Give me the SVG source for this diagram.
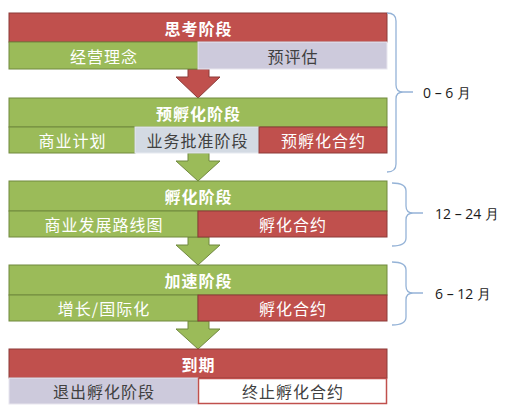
<svg xmlns="http://www.w3.org/2000/svg" width="509" height="414" viewBox="0 0 509 414">
<defs>
<style>
.red{fill:#C0504D;stroke:#8C3A38;stroke-width:1}
.grn{fill:#9BBB59;stroke:#71893F;stroke-width:1}
.lil{fill:#CDCADC;stroke:#E8E6EF;stroke-width:1}
.blu{fill:#D3DAE3;stroke:#E6EAF0;stroke-width:1}
.wht{fill:#FFFFFF;stroke:#C0504D;stroke-width:1.5}
.ra{fill:#C0504D;stroke:#8C3A38;stroke-width:1}
.ga{fill:#9BBB59;stroke:#71893F;stroke-width:1}
text{font-family:"Noto Sans CJK SC","Liberation Sans",sans-serif;font-size:16px;letter-spacing:1px;text-anchor:middle;dominant-baseline:central}
.h{font-weight:bold;fill:#FFFFFF}
.w{fill:#FFFFFF}
.d{fill:#404040}
.br{fill:none;stroke:#95B3D7;stroke-width:1.3}
.lab{font-family:"Open Sans","Liberation Sans",sans-serif;font-size:14px;letter-spacing:0;fill:#1A1A1A;text-anchor:start}
</style>
</defs>
<g id="connectors">
<path class="ra" d="M188,69 H209 V77 H220 L198,98 L176,77 H188 Z"/>
<path class="ga" d="M188,153 H209 V161 H220 L198,181 L176,161 H188 Z"/>
<path class="ga" d="M188,237 H209 V245 H220 L198,265 L176,245 H188 Z"/>
<path class="ga" d="M188,321 H209 V329 H220 L198,349 L176,329 H188 Z"/>
</g>
<g id="stage1">
<rect class="red" x="9" y="13" width="378" height="29"/>
<text class="h" x="198.5" y="27.5">思考阶段</text>
<rect class="grn" x="9" y="42" width="189" height="27"/>
<text class="w" x="104" y="55.5">经营理念</text>
<rect class="lil" x="198" y="42" width="189" height="27"/>
<text class="d" x="293" y="55.5">预评估</text>
</g>
<g id="stage2">
<rect class="grn" x="9" y="98" width="378" height="29"/>
<text class="h" x="198.5" y="112.5">预孵化阶段</text>
<rect class="grn" x="9" y="127" width="126" height="26"/>
<text class="w" x="72.5" y="140">商业计划</text>
<rect class="blu" x="135" y="127" width="124" height="26"/>
<text class="d" x="197.5" y="140">业务批准阶段</text>
<rect class="red" x="259" y="127" width="128" height="26"/>
<text class="w" x="323.5" y="140">预孵化合约</text>
</g>
<g id="stage3">
<rect class="grn" x="9" y="181" width="378" height="30"/>
<text class="h" x="198.5" y="196">孵化阶段</text>
<rect class="grn" x="9" y="211" width="189" height="26"/>
<text class="w" x="104" y="224">商业发展路线图</text>
<rect class="red" x="198" y="211" width="189" height="26"/>
<text class="w" x="293" y="224">孵化合约</text>
</g>
<g id="stage4">
<rect class="grn" x="9" y="265" width="378" height="30"/>
<text class="h" x="198.5" y="280">加速阶段</text>
<rect class="grn" x="9" y="295" width="189" height="26"/>
<text class="w" x="104" y="308">增长/国际化</text>
<rect class="red" x="198" y="295" width="189" height="26"/>
<text class="w" x="293" y="308">孵化合约</text>
</g>
<g id="stage5">
<rect class="red" x="9" y="349" width="378" height="29"/>
<text class="h" x="198.5" y="363.5">到期</text>
<rect class="lil" x="9" y="378" width="189" height="26"/>
<text class="d" x="104" y="391">退出孵化阶段</text>
<rect class="wht" x="198.5" y="378.5" width="188" height="25"/>
<text class="d" x="293" y="391">终止孵化合约</text>
</g>
<g id="brace1">
<path class="br" d="M387,13 Q396,13 396,21 V85 Q396,92 403,92 H413 M403,92 Q396,92 396,99 V164 Q396,172 387,172"/>
<text class="lab" x="423" y="92">0 – 6 月</text>
</g>
<g id="brace2">
<path class="br" d="M392,183 Q406,183 406,191 V206 Q406,213 413,213 H423 M413,213 Q406,213 406,220 V238 Q406,246 392,246"/>
<text class="lab" x="435" y="213">12 – 24 月</text>
</g>
<g id="brace3">
<path class="br" d="M392,262 Q406,262 406,270 V286 Q406,293 413,293 H423 M413,293 Q406,293 406,300 V317 Q406,325 392,325"/>
<text class="lab" x="435" y="293">6 – 12 月</text>
</g>
</svg>
